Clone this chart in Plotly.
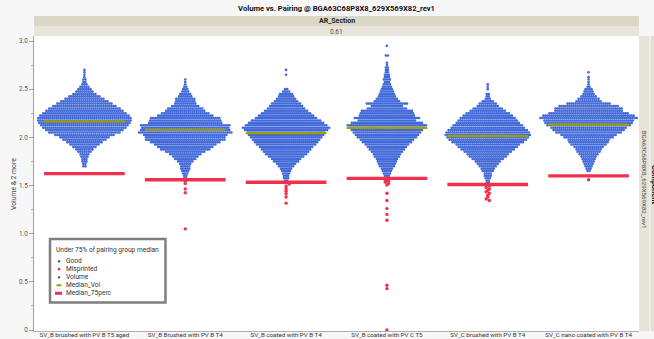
import plotly.graph_objects as go

# ---- data -------------------------------------------------------------
pairings = [
    "SV_B brushed with PV B T5 aged",
    "SV_B Brushed with PV B T4",
    "SV_B coated with PV B T4",
    "SV_B coated with PV C T5",
    "SV_C brushed with PV B T4",
    "SV_C nano coated with PV B T4",
]

ROW_STEP = 0.025  # volume bin height of one swarm row

# lowest "Good" row per pairing
row_start = [1.700, 1.575, 1.550, 1.600, 1.525, 1.650]

# number of "Good" parts in each row, from row_start upward in ROW_STEP bins
good_g1 = [2, 2, 3, 3, 4, 5, 7, 9, 12, 15, 18, 22, 25, 30, 36, 39, 42, 44, 46, 47, 47,
           45, 42, 39, 36, 32, 28, 24, 20, 16, 12, 9, 7, 5, 3, 2, 2, 1, 1, 1, 1]
good_g2 = [2, 2, 3, 4, 5, 5, 6, 8, 11, 13, 16, 20, 25, 28, 31, 35, 40, 40, 42, 47, 45,
           44, 45, 37, 36, 35, 28, 24, 20, 18, 14, 11, 10, 10, 7, 6, 4, 3, 2, 1, 1, 1]
good_g3 = [2, 3, 3, 4, 5, 6, 8, 10, 13, 15, 18, 21, 23, 25, 27, 30, 32, 34, 36, 38, 39,
           42, 44, 41, 38, 35, 31, 28, 25, 22, 19, 17, 15, 12, 10, 8, 7, 4, 2,
           0, 0, 0, 0, 0, 1, 0, 1]
good_g4 = [3, 4, 5, 6, 8, 9, 10, 11, 13, 14, 16, 18, 20, 22, 25, 27, 30, 32, 34, 36, 38,
           40, 36, 29, 33, 28, 27, 26, 20, 16, 21, 13, 11, 9, 8, 7, 6, 5, 4, 3, 4, 3,
           3, 2, 2, 2, 1, 1, 0, 0, 2, 0, 0, 0, 1]
good_g5 = [2, 2, 3, 4, 4, 6, 7, 9, 11, 13, 16, 19, 21, 24, 27, 30, 32, 36, 39, 41, 43,
           42, 40, 37, 35, 32, 30, 28, 25, 22, 18, 15, 11, 9, 6, 3, 2, 2, 0, 1, 1, 1]
good_g6 = [2, 3, 4, 5, 6, 7, 8, 10, 12, 13, 15, 18, 20, 21, 25, 28, 33, 36, 38, 42, 44,
           45, 49, 46, 40, 34, 34, 30, 22, 13, 11, 8, 6, 5, 4, 2, 1, 1, 1, 1, 0, 1]
good_rows = [good_g1, good_g2, good_g3, good_g4, good_g5, good_g6]

# misprinted parts (below 75 % of the pairing median)
mis_g1 = []
mis_g2 = [1.545, 1.52, 1.465, 1.425, 1.05]
mis_g3 = [1.53, 1.525, 1.515, 1.49, 1.465, 1.44, 1.415, 1.38, 1.317]
mis_g4 = [1.57, 1.565, 1.555, 1.545, 1.535, 1.52, 1.505, 1.42, 1.345, 1.26, 1.2,
          1.14, 0.465, 0.43, 0.0]
mis_g5 = [1.505, 1.495, 1.48, 1.465, 1.45, 1.435, 1.42, 1.40, 1.38, 1.36, 1.345]
mis_g6 = [1.56]
misprinted = [mis_g1, mis_g2, mis_g3, mis_g4, mis_g5, mis_g6]

median_vol = [2.165, 2.079, 2.044, 2.099, 2.013, 2.133]

y_ticks = [0, 0.5, 1.0, 1.5, 2.0, 2.5, 3.0]
y_tick_text = ["0", "0.5", "1.0", "1.5", "2.0", "2.5", "3.0"]

# ---- styling ----------------------------------------------------------
BLUE = "#4169d9"
RED = "#f0304c"
OLIVE = "#a39e00"
GREY_TXT = "#555555"
FONT = "Roboto"
DOT_DX = 0.0199      # horizontal spacing of neighbouring dots (category units)
HALF_LINE = 0.4      # half length of the median bars

W, H = 654, 339
ML, MR, MT, MB = 34, 15, 36, 8


def px(x):
    return (x - ML) / (W - ML - MR)


def py(y):
    return (H - MB - y) / (H - MT - MB)


# ---- swarm layout -----------------------------------------------------
gx, gy = [], []
for gi, (start, counts) in enumerate(zip(row_start, good_rows)):
    for ri, n in enumerate(counts):
        level = start + ri * ROW_STEP
        for k in range(n):
            gx.append(gi + (k - (n - 1) / 2) * DOT_DX)
            gy.append(level)

mx, my = [], []
for gi, vals in enumerate(misprinted):
    bins = {}
    for v in vals:
        bins.setdefault(round(v / ROW_STEP), []).append(v)
    for members in bins.values():
        n = len(members)
        for k, v in enumerate(members):
            mx.append(gi + (k - (n - 1) / 2) * DOT_DX * 1.6)
            my.append(v)

med_x, med_y, p75_x, p75_y = [], [], [], []
for gi, m in enumerate(median_vol):
    med_x += [gi - HALF_LINE, gi + HALF_LINE, None]
    med_y += [m, m, None]
    p75_x += [gi - HALF_LINE, gi + HALF_LINE, None]
    p75_y += [0.75 * m, 0.75 * m, None]

fig = go.Figure()
fig.add_trace(go.Scatter(
    x=gx, y=gy, mode="markers", name="Good",
    marker=dict(color=BLUE, size=2.6, line=dict(width=0)),
    hoverinfo="skip"))
fig.add_trace(go.Scatter(
    x=med_x, y=med_y, mode="lines", name="Median_Vol",
    line=dict(color=OLIVE, width=2.2)))
fig.add_trace(go.Scatter(
    x=p75_x, y=p75_y, mode="lines", name="Median_75perc",
    line=dict(color=RED, width=3.4)))
fig.add_trace(go.Scatter(
    x=mx, y=my, mode="markers", name="Misprinted",
    marker=dict(color=RED, size=3.4, line=dict(width=0))))

shapes = []
annotations = []


def note(text, x, y, size, color, xanchor="center", angle=0):
    annotations.append(dict(text=text, xref="paper", yref="paper",
                            x=x, y=y, xanchor=xanchor, yanchor="middle",
                            textangle=angle, showarrow=False,
                            font=dict(family=FONT, size=size, color=color)))


# header bands above the plot
shapes.append(dict(type="rect", xref="paper", yref="paper",
                   x0=0, x1=1, y0=py(26.5), y1=py(16), fillcolor="#d9d7c6",
                   line=dict(width=0), layer="below"))
shapes.append(dict(type="rect", xref="paper", yref="paper",
                   x0=0, x1=1, y0=py(36), y1=py(26.5), fillcolor="#e7e5d9",
                   line=dict(width=0), layer="below"))
note("<b>AR_Section</b>", 0.5, py(21.3), 7, "#222")
note("0.61", 0.5, py(31.8), 6.5, GREY_TXT)

# y axis title
note("Volume & 2 more", px(14), py(184), 6.8, "#444", angle=-90)

# right-hand group strips
shapes.append(dict(type="rect", xref="paper", yref="paper",
                   x0=px(639), x1=px(649.5), y0=py(331), y1=py(36),
                   fillcolor="#e6e4d8", line=dict(width=0), layer="below"))
shapes.append(dict(type="rect", xref="paper", yref="paper",
                   x0=px(650.5), x1=px(660), y0=py(331), y1=py(36),
                   fillcolor="#e1dfd2", line=dict(width=0), layer="below"))
note("BGA63C68P8X8_629X569X82_rev1", px(644.3), py(180), 6.2, "#444", angle=90)
note("<b>Component</b>", px(655), py(185), 7.5, "#111", angle=90)

# legend box
shapes.append(dict(type="rect", xref="paper", yref="paper",
                   x0=px(50), x1=px(165.5), y0=py(302.5), y1=py(239),
                   fillcolor="white", line=dict(color="#7f7f7f", width=2.5)))
note("Under 75% of pairing group median", px(53.5), py(250), 6.6, "#333", "left")
legend_items = [("Good", 261.3, "dot", BLUE),
                ("Misprinted", 269.2, "dot", RED),
                ("Volume", 277.3, "dot", "#6e6e6e"),
                ("Median_Vol", 285.3, "line", OLIVE),
                ("Median_75perc", 293.3, "bar", RED)]
for label, yy, kind, col in legend_items:
    if kind == "dot":
        shapes.append(dict(type="circle", xref="paper", yref="paper",
                           x0=px(57.6), x1=px(60.4), y0=py(yy + 1.4), y1=py(yy - 1.4),
                           fillcolor=col, line=dict(width=0)))
    elif kind == "line":
        shapes.append(dict(type="line", xref="paper", yref="paper",
                           x0=px(56.5), x1=px(61.5), y0=py(yy), y1=py(yy),
                           line=dict(color=col, width=2)))
    else:
        shapes.append(dict(type="line", xref="paper", yref="paper",
                           x0=px(55), x1=px(62), y0=py(yy), y1=py(yy),
                           line=dict(color=col, width=3)))
    note(label, px(63.5), py(yy), 6.6, "#333", "left")

fig.update_layout(
    width=W, height=H,
    margin=dict(l=ML, r=MR, t=MT, b=MB),
    paper_bgcolor="#f7f7f7",
    plot_bgcolor="white",
    showlegend=False,
    title=dict(text="<b>Volume vs. Pairing @ BGA63C68P8X8_629X569X82_rev1</b>",
               x=0.5, xref="paper", xanchor="center",
               y=1 - 8.5 / H, yanchor="middle",
               font=dict(family=FONT, size=7.6, color="#111")),
    shapes=shapes,
    annotations=annotations,
    xaxis=dict(
        range=[-0.5, 5.5], tickmode="array", tickvals=list(range(len(pairings))),
        ticktext=pairings, showgrid=False, zeroline=False, automargin=False,
        showline=True, linecolor="#b0b0b0", linewidth=1, ticks="",
        tickfont=dict(family=FONT, size=6.2, color="#333"),
        ticklabelstandoff=-2,
    ),
    yaxis=dict(
        range=[-0.0104, 3.052], tickmode="array", tickvals=y_ticks,
        ticktext=y_tick_text, showgrid=False, zeroline=False, automargin=False,
        showline=True, linecolor="#a0a0a0", linewidth=1,
        ticks="outside", ticklen=4, tickcolor="#a0a0a0",
        minor=dict(dtick=0.25, ticks="outside", ticklen=2, tickcolor="#b0b0b0"),
        tickfont=dict(family=FONT, size=6.3, color=GREY_TXT),
    ),
)

fig.write_html("out.html")
